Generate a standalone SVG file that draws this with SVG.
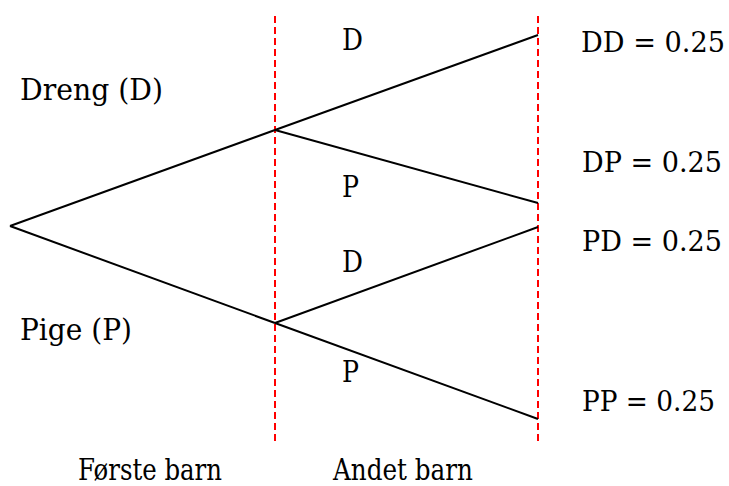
<svg xmlns="http://www.w3.org/2000/svg" width="729" height="486" viewBox="0 0 729 486">
<style>
.t { font-family: 'DejaVu Serif', serif; font-size: 30px; fill: #000; }
.leaf { font-size: 28px; }
.guide { stroke: #ff0000; stroke-width: 2; stroke-dasharray: 7 4; fill: none; }
.edge { stroke: #000; stroke-width: 2; fill: none; }
</style>
<rect width="729" height="486" fill="#fff"/>
<g id="guides">
<line class="guide" x1="275" y1="16" x2="275" y2="443"/>
<line class="guide" x1="538" y1="16" x2="538" y2="443"/>
</g>
<g id="connectors">
<line class="edge" x1="10" y1="226" x2="275" y2="130"/>
<line class="edge" x1="10" y1="226" x2="275" y2="323"/>
<line class="edge" x1="275" y1="130" x2="538" y2="35"/>
<line class="edge" x1="275" y1="130" x2="538" y2="203"/>
<line class="edge" x1="275" y1="323" x2="538" y2="227"/>
<line class="edge" x1="275" y1="323" x2="538" y2="419"/>
</g>
<g class="t">
<g id="node-first-D"><text x="20" y="100" textLength="143" lengthAdjust="spacingAndGlyphs">Dreng (D)</text></g>
<g id="node-first-P"><text x="20" y="340" textLength="112" lengthAdjust="spacingAndGlyphs">Pige (P)</text></g>
<g id="node-second-DD-label"><text x="342" y="50" textLength="21" lengthAdjust="spacingAndGlyphs">D</text></g>
<g id="node-second-DP-label"><text x="342" y="197" textLength="17" lengthAdjust="spacingAndGlyphs">P</text></g>
<g id="node-second-PD-label"><text x="342" y="272" textLength="21" lengthAdjust="spacingAndGlyphs">D</text></g>
<g id="node-second-PP-label"><text x="342" y="382" textLength="17" lengthAdjust="spacingAndGlyphs">P</text></g>
<g id="leaf-DD"><text class="leaf" x="581" y="52" textLength="144" lengthAdjust="spacingAndGlyphs">DD = 0.25</text></g>
<g id="leaf-DP"><text class="leaf" x="582" y="172" textLength="140" lengthAdjust="spacingAndGlyphs">DP = 0.25</text></g>
<g id="leaf-PD"><text class="leaf" x="582" y="251" textLength="140" lengthAdjust="spacingAndGlyphs">PD = 0.25</text></g>
<g id="leaf-PP"><text class="leaf" x="582" y="411" textLength="133" lengthAdjust="spacingAndGlyphs">PP = 0.25</text></g>
<g id="axis-labels">
<text x="78" y="480" textLength="144" lengthAdjust="spacingAndGlyphs">Første barn</text>
<text x="333" y="480" textLength="140" lengthAdjust="spacingAndGlyphs">Andet barn</text>
</g>
</g>
</svg>
